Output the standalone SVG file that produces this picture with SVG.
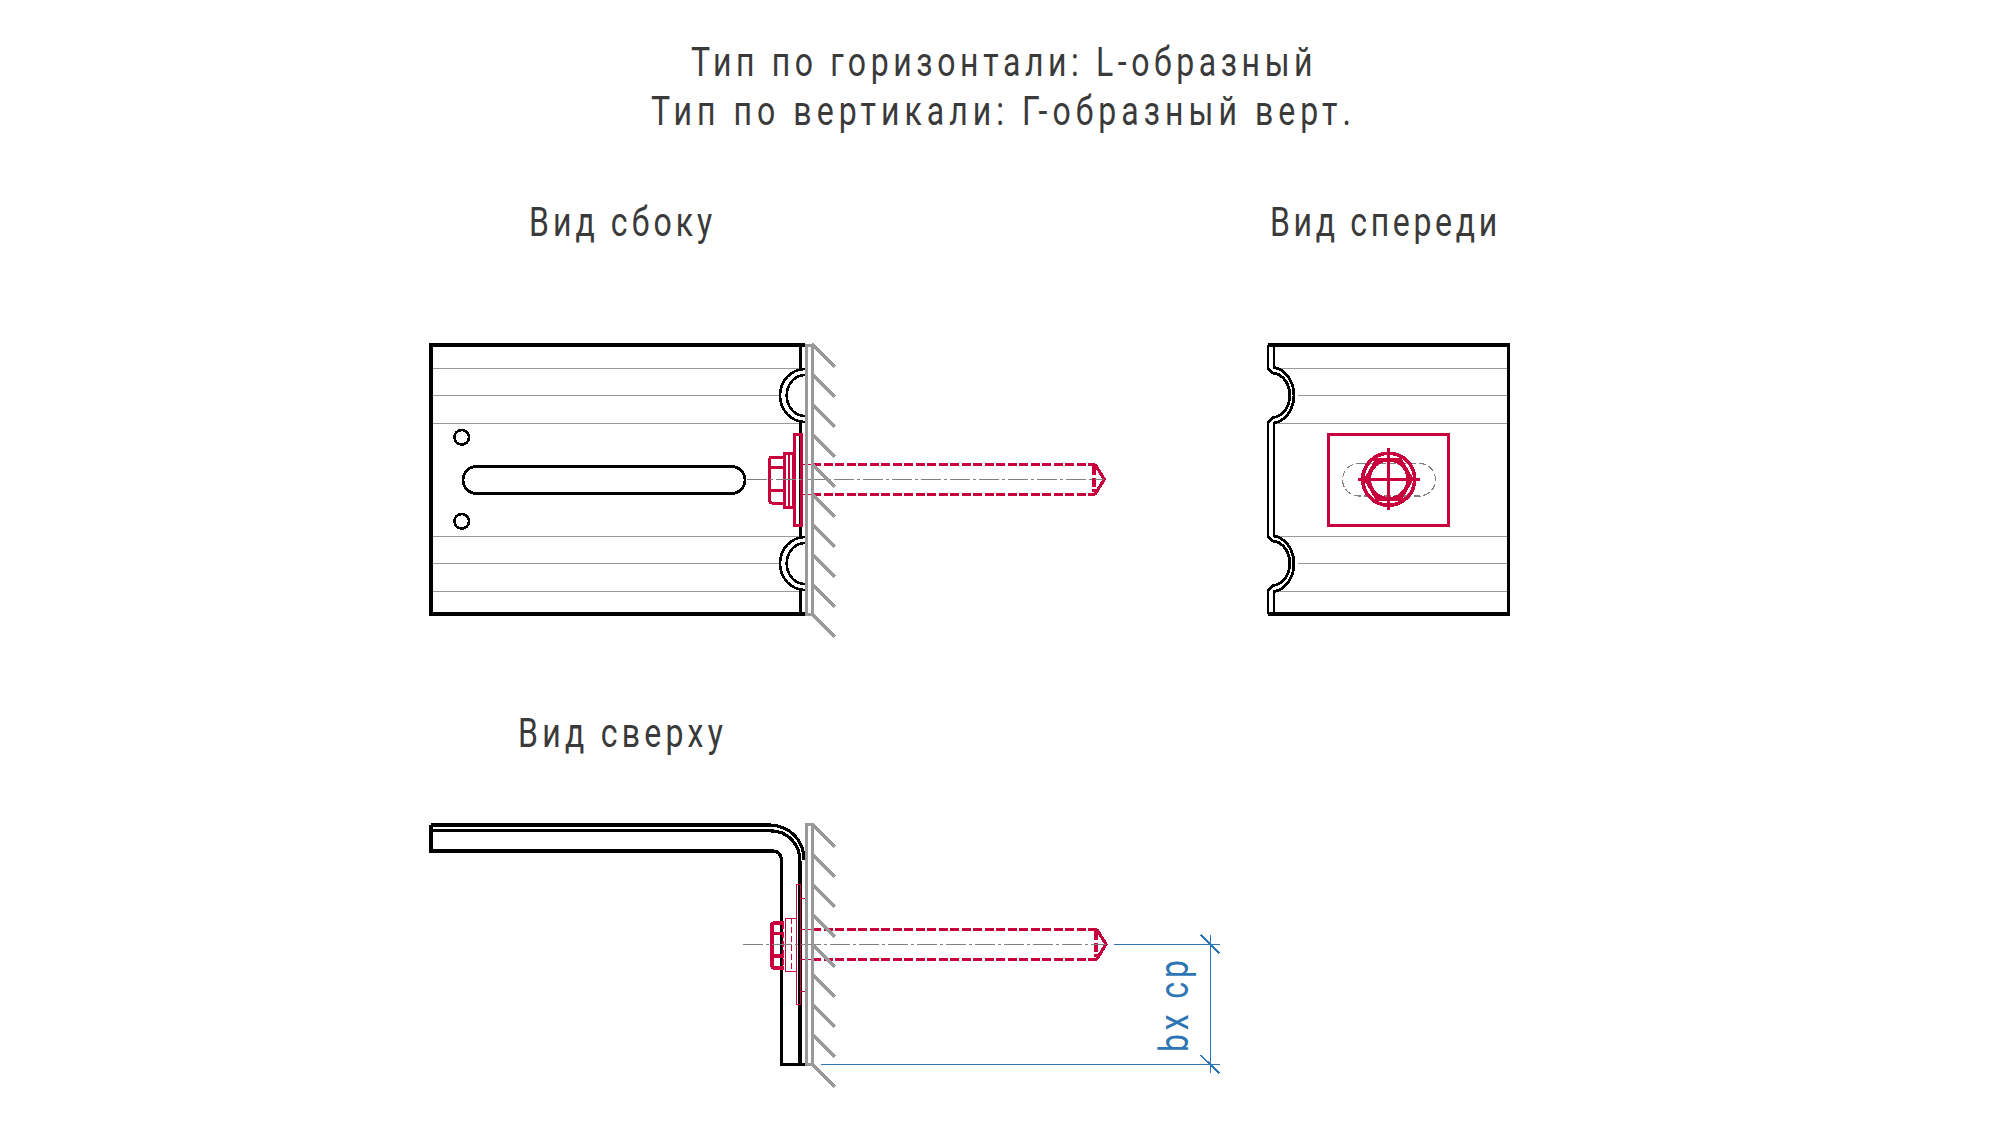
<svg xmlns="http://www.w3.org/2000/svg" width="2000" height="1125" viewBox="0 0 2000 1125" shape-rendering="crispEdges">
<defs>
<style>
.t{font-family:Roboto,"Liberation Sans",sans-serif;font-weight:400;font-size:40px;fill:#3a3a3a}
.b1{font-family:Roboto,"Liberation Sans",sans-serif;font-weight:400;font-size:40px;fill:#2e75b6}
.k{fill:none;stroke:#000;stroke-width:3.2;stroke-linejoin:miter}
.kt{fill:none;stroke:#000;stroke-width:2.6}
.g{fill:none;stroke:#999;stroke-width:3}
.gt{fill:none;stroke:#999;stroke-width:1.2}
.c{fill:none;stroke:#808080;stroke-width:1.5;stroke-dasharray:20 3 3 3}
.r{fill:none;stroke:#c8003c;stroke-width:3}
.rt{fill:none;stroke:#c8003c;stroke-width:1.4}
.rh{fill:none;stroke:#c8003c;stroke-width:3.6;stroke-linejoin:round}
.rd{fill:none;stroke:#c8003c;stroke-width:3.2;stroke-dasharray:9 2.5}
.b{fill:none;stroke:#2e75b6;stroke-width:1.5}
.bt{fill:none;stroke:#2e75b6;stroke-width:2}
</style>
<path id="hatch" class="g" d="M812 0L835 23"/>
</defs>
<rect width="2000" height="1125" fill="#fff"/>
<g id="titles">
<text class="t" transform="translate(691 76) scale(.8 1)" textLength="777">Тип по горизонтали: L-образный</text>
<text class="t" transform="translate(651 125) scale(.8 1)" textLength="875">Тип по вертикали: Г-образный верт.</text>
<text class="t" transform="translate(529 236) scale(.8 1)" textLength="229">Вид сбоку</text>
<text class="t" transform="translate(1270 236) scale(.8 1)" textLength="284">Вид спереди</text>
<text class="t" transform="translate(518 747) scale(.8 1)" textLength="256">Вид сверху</text>
</g>
<g id="side-view">
<path class="gt" d="M431 368.300H800M431 395.300H780M431 423.300H800M431 536.300H800M431 563.300H780M431 591.300H800"/>
<path class="k" d="M805 345H431V614H805M800.500 345V369M800.500 423V536M800.500 591V614"/>
<path class="kt" d="M805 369A25 26.500 0 0 0 805 422M805 375A18.300 20.500 0 0 0 805 416"/>
<path class="kt" d="M805 537A25 26.500 0 0 0 805 590M805 543A18.300 20.500 0 0 0 805 584"/>
<circle class="kt" cx="461.700" cy="437.300" r="7.300"/>
<circle class="kt" cx="461.700" cy="521.300" r="7.300"/>
<rect class="k" style="stroke-width:2.800" x="463" y="466.500" width="282" height="27" rx="13.500"/>
<g id="side-bolt">
<rect class="r" x="794" y="434" width="7" height="91"/>
<rect class="r" x="784" y="453" width="9" height="54"/>
<path class="rt" d="M789 453V507"/>
<path class="r" d="M784 457H772Q769.500 457 769.500 460V500Q769.500 503 772 503H784V457M770 467.300H784M770 490.700H784"/>
<path class="rt" d="M800 464.300H812M800 494.300H812"/>
<path class="rd" d="M812 464.300H1095M812 494.300H1095M1094 466V492"/>
<path class="r" style="stroke-width:3.200" d="M1095 464.300L1104.300 479.300L1095 494.300"/>
</g>
<path class="c" d="M747 479.300H1104"/>
</g>
<g id="wall-side">
<path class="g" d="M806.700 345V614M812.500 345V614M805 345H813M805 614H813"/>
<use href="#hatch" y="344"/><use href="#hatch" y="374"/><use href="#hatch" y="404"/><use href="#hatch" y="434"/><use href="#hatch" y="464"/><use href="#hatch" y="494"/><use href="#hatch" y="524"/><use href="#hatch" y="554"/><use href="#hatch" y="584"/><use href="#hatch" y="614"/>
</g>
<g id="front-view">
<path class="gt" d="M1274 368.300H1508M1298 395.300H1508M1274 423.300H1508M1274 536.300H1508M1298 563.300H1508M1274 591.300H1508"/>
<path class="k" d="M1268 345H1508.700V614H1268"/>
<path class="kt" style="stroke-width:2.800" d="M1274 345V367.500A23 28 0 0 1 1274 423V536A23 28 0 0 1 1274 591.500V614"/>
<path class="kt" style="stroke-width:2.800" d="M1268 345V369L1273 373A18 22.300 0 0 1 1273 417.500L1268 422V537L1273 541A18 22.300 0 0 1 1273 585.500L1268 590V614"/>
<rect class="r" x="1328" y="434" width="120" height="91"/>
<rect fill="none" stroke="#808080" stroke-width="1.200" stroke-dasharray="7 3" x="1342.500" y="463.500" width="93" height="32.500" rx="16.200"/>
<circle class="rh" cx="1388.700" cy="479.300" r="26"/>
<circle class="rh" cx="1388.700" cy="479.300" r="19.500"/>
<path class="rh" d="M1365.700 479.300L1377.200 459.400H1400.200L1411.700 479.300L1400.200 499.200H1377.200Z"/>
<path class="r" style="stroke-width:3.200" d="M1357.700 479.300H1419.700M1388.700 448.300V510.300"/>
</g>
<g id="top-view">
<path class="k" d="M431 825V851H773C778 851 781.500 855 781.500 860V1064.300H805M431 830.800H770C788 830.800 800 844 800 862V1064.300M431 825H770C790 826 804 840 804 860"/>
<rect class="rt" x="796.700" y="884.300" width="4" height="120"/>
<rect class="rt" x="785.300" y="918.300" width="11" height="53.500"/>
<path class="rt" style="stroke-dasharray:6 3" d="M791.300 918.300V971.800M783 923V968"/>
<path class="rt" d="M800.700 898.300H805M800.700 991.700H805"/>
<path class="rh" d="M784 923H775Q771.700 923 771.700 926V964.700Q771.700 968 775 968H784M772 933.300H784M772 956H784"/>
<path class="rt" d="M800 929.300H812M800 959.300H812"/>
<path class="rd" d="M812 929.300H1097M812 959.300H1097M1096 931V957"/>
<path class="r" style="stroke-width:3.200" d="M1096.700 929.300L1106 944.300L1096.700 959.300"/>
<path class="c" d="M743 944.300H1106"/>
</g>
<g id="wall-top">
<path class="g" d="M806.700 824V1064M812.500 824V1064M805 824H813M805 1064H813"/>
<use href="#hatch" y="824"/><use href="#hatch" y="854"/><use href="#hatch" y="884"/><use href="#hatch" y="914"/><use href="#hatch" y="944"/><use href="#hatch" y="974"/><use href="#hatch" y="1004"/><use href="#hatch" y="1034"/><use href="#hatch" y="1064"/>
</g>
<g id="connectors">
<path class="b" d="M1114 944.300H1220M821 1064.300H1220M1210.300 935V1073.300"/>
<path class="bt" d="M1200.700 935L1219.300 953.300M1200.700 1055.300L1219.300 1073.300"/>
<text class="b1" transform="translate(1188.300 1052) rotate(-90) scale(.8 1)" textLength="115">bx ср</text>
</g>
</svg>
